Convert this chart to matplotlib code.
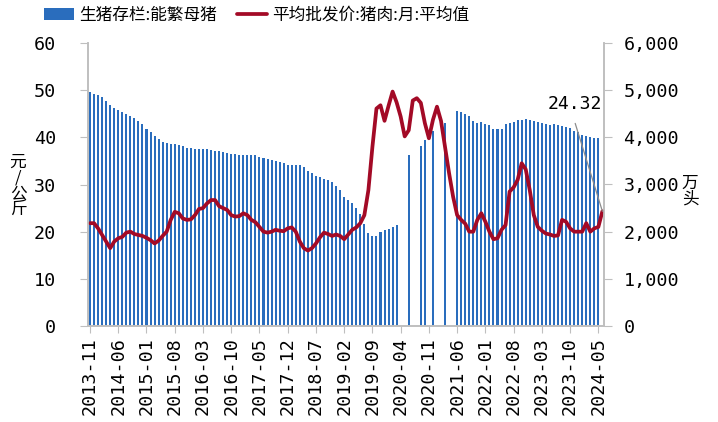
import matplotlib
matplotlib.use('Agg')
import matplotlib.pyplot as plt
import numpy as np
import pandas as pd

plt.rcParams['font.family'] = ['Noto Sans CJK SC', 'DejaVu Sans']

# 生猪存栏:能繁母猪 (万头), monthly from 2013-11, NaN = no data
sow_stock = [4960, 4920, 4895, 4860, 4780, 4690, 4630, 4580, 4530, 4490,
             4460, 4400, 4350, 4275, 4170, 4105, 4030, 3960, 3900, 3885,
             3860, 3855, 3840, 3815, 3780, 3765, 3750, 3750, 3750, 3750,
             3740, 3720, 3705, 3690, 3675, 3655, 3640, 3630, 3625, 3620,
             3618, 3618, 3590, 3570, 3540, 3512, 3490, 3470, 3450, 3406,
             3406, 3406, 3406, 3364, 3280, 3237, 3180, 3152, 3123, 3088,
             3046, 2968, 2883, 2728, 2671, 2614, 2501, 2367, 2162, 1965,
             1915, 1915, 1993, 2028, 2063, 2099, 2148, np.nan, np.nan, 3625,
             np.nan, np.nan, 3816, 3940, np.nan, 4130, np.nan, np.nan, 4310, np.nan,
             np.nan, 4555, 4530, 4505, 4452, 4339, 4297, 4325, 4289, 4261,
             4176, 4170, 4183, 4276, 4303, 4325, 4360, 4374, 4381, 4374,
             4352, 4325, 4297, 4289, 4261, 4282, 4261, 4233, 4226, 4190,
             4141, 4113, 4049, 4028, 4014, 3979, 3979]

# 平均批发价:猪肉:月:平均值 (元/公斤), monthly from 2013-11
pork_price = [21.8, 21.8, 20.7, 19.3, 17.9, 16.5, 17.9, 18.6, 18.9, 19.8,
              20.0, 19.5, 19.3, 19.1, 18.7, 18.2, 17.5, 18.1, 19.1, 20.0,
              22.5, 24.2, 23.9, 22.8, 22.5, 22.6, 23.5, 24.8, 25.0, 26.0,
              26.7, 26.7, 25.4, 25.0, 24.6, 23.5, 23.2, 23.3, 23.9, 23.5,
              22.5, 22.0, 21.0, 20.0, 19.8, 20.0, 20.4, 20.2, 20.1, 20.7,
              20.9, 20.0, 17.9, 16.5, 16.0, 16.5, 17.5, 18.8, 19.8, 19.5,
              19.1, 19.4, 19.1, 18.4, 19.4, 20.4, 20.9, 21.8, 23.5, 28.8,
              38.0, 46.1, 46.8, 43.5, 46.7, 49.7, 47.4, 44.4, 40.2, 41.5,
              47.8, 48.3, 47.3, 43.0, 39.8, 43.7, 46.5, 43.5, 38.0, 32.4,
              27.4, 23.5, 22.5, 21.7, 20.0, 20.0, 22.5, 23.9, 22.1, 20.0,
              18.4, 18.6, 20.4, 21.4, 28.5, 29.4, 31.0, 34.5, 33.2, 28.8,
              23.5, 21.0, 20.2, 19.6, 19.4, 19.1, 19.2, 22.5, 22.1, 20.7,
              20.0, 20.0, 20.0, 21.8, 20.0, 20.7, 21.0, 24.32]

months = pd.period_range('2013-11', periods=len(pork_price), freq='M')
month_labels = [p.strftime('%Y-%m') for p in months]

blue = '#2a6dbd'
red = '#a30a26'
gray = '#bfbfbf'
num_font = 'DejaVu Sans Mono'

fig = plt.figure(figsize=(7.18, 4.22), dpi=100)
ax = fig.add_axes([88/718, 1-326/422, (604-88)/718, (326-43)/422])
ax2 = ax.twinx()
ax.set_zorder(ax2.get_zorder() + 1)
ax.patch.set_visible(False)

bars = ax2.bar(np.arange(len(sow_stock)), sow_stock, width=0.5, color=blue,
               label='生猪存栏:能繁母猪')
line, = ax.plot(np.arange(len(pork_price)), pork_price, color=red, lw=2.7,
                solid_joinstyle='round', solid_capstyle='round',
                label='平均批发价:猪肉:月:平均值')

ax.set_xlim(-0.5, 127.4)
ax.set_ylim(0, 60)
ax2.set_ylim(0, 6000)

xt = list(range(0, len(pork_price), 7))
ax.set_xticks(xt, labels=[month_labels[i] for i in xt], rotation=90,
              fontfamily=num_font, fontsize=13.2)
yt = list(range(0, 61, 10))
ax.set_yticks(yt, labels=[str(v) for v in yt], fontfamily=num_font, fontsize=13.2)
yt2 = list(range(0, 6001, 1000))
ax2.set_yticks(yt2, labels=[f'{v:,}' for v in yt2], fontfamily=num_font, fontsize=13.2)

ax.tick_params(axis='x', length=5, color=gray, pad=3)
ax.tick_params(axis='y', length=6, color=gray, pad=17)
ax2.tick_params(axis='y', length=6, color=gray, pad=8)

for a in (ax, ax2):
    a.spines['top'].set_visible(False)
    for s in ('left', 'right', 'bottom'):
        a.spines[s].set_color(gray)
        a.spines[s].set_linewidth(1.2)

ax.annotate(f'{pork_price[-1]:.2f}', xy=(len(pork_price) - 1, pork_price[-1]),
            xytext=(-20, 71), textcoords='offset points', ha='center', va='bottom',
            fontfamily=num_font, fontsize=13,
            arrowprops=dict(arrowstyle='-', color='#8c8c8c', lw=0.9,
                            shrinkA=6, shrinkB=0, relpos=(0.45, 0)))

fig.text(18/718, 1-186/422, '元\n/\n公\n斤', ha='center', va='center',
         fontsize=12, linespacing=0.9)
fig.text(690/718, 1-191/422, '万\n头', ha='center', va='center',
         fontsize=12, linespacing=0.9)

fig.legend(handles=[bars, line], loc='center left', bbox_to_anchor=(44/718, 1-15/422),
           ncol=2, frameon=False, fontsize=12, handlelength=1.8, handletextpad=0.3,
           columnspacing=1.2, borderaxespad=0, borderpad=0)

fig.savefig('out.png', dpi=100)
